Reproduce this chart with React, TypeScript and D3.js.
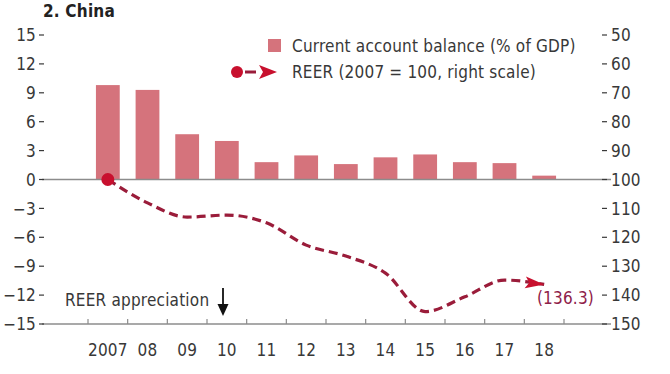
import React from 'react';
import {scaleBand, scaleLinear, line, curveMonotoneX, format} from 'd3';

// data
const years = ['2007', '08', '09', '10', '11', '12', '13', '14', '15', '16', '17', '18'];
const caBalance = [9.8, 9.3, 4.7, 4.0, 1.8, 2.5, 1.6, 2.3, 2.6, 1.8, 1.7, 0.4];
const reer = [100, 108.1, 113.0, 112.3, 115.0, 122.7, 126.5, 132.4, 145.7, 140.6, 134.8, 136.3];
const leftTicks = [15, 12, 9, 6, 3, 0, -3, -6, -9, -12, -15];
const rightTicks = [50, 60, 70, 80, 90, 100, 110, 120, 130, 140, 150];

const W = 670, H = 374;
const FONT = "'DejaVu Sans Condensed', 'Liberation Sans Narrow', sans-serif";
const BAR = '#d5737c';
const LINE = '#9a1c3a';
const DOT = '#c8102e';
const GRID = '#8c8c8c';
const TXT = '#383838';

const textStyle = {fontFamily: FONT, fontSize: 17, letterSpacing: 0.2, fill: TXT};

const App = () => {
    const x = scaleBand<string>()
        .domain(years)
        .range([88, 564])
        .paddingInner(0.4)
        .paddingOuter(0.2);
    const yL = scaleLinear().domain([-15, 15]).range([324, 35]);
    const yR = scaleLinear().domain([150, 50]).range([324, 35]);

    const step = x.step();
    const cx = (d: string) => (x(d) as number) + x.bandwidth() / 2;
    const bounds = years.map(d => (x(d) as number) - step * 0.2);
    bounds.push(bounds[bounds.length - 1] + step);

    const pts: [number, number][] = years.map((d, i) => [cx(d), yR(reer[i])]);
    const reerPath = line().curve(curveMonotoneX)(pts) || '';

    // arrow head at end of line
    const [x1, y1] = pts[pts.length - 2];
    const [x2, y2] = pts[pts.length - 1];
    const ang = Math.atan2(y2 - y1, x2 - x1);
    const L = 19, hw = 6;
    const bx = x2 - L * Math.cos(ang), by = y2 - L * Math.sin(ang);
    const head = [
        [x2, y2],
        [bx + hw * Math.sin(ang), by - hw * Math.cos(ang)],
        [bx + 4 * Math.cos(ang), by + 4 * Math.sin(ang)],
        [bx - hw * Math.sin(ang), by + hw * Math.cos(ang)],
    ].map(p => p.join(',')).join(' ');

    const fmt = format('d');
    const axL = 44, axR = 602;
    const lineStart = 42, lineEnd = 611;

    return (
        <svg width={W} height={H} style={{position: 'absolute', left: 0, top: 0, background: '#fff'}}>
            {/* title */}
            <text x={43} y={17} style={{...textStyle, fontWeight: 'bold', fill: '#222'}}>2. China</text>

            {/* bars */}
            {years.map((d, i) => (
                <rect key={d} x={x(d)} width={x.bandwidth()}
                      y={yL(Math.max(0, caBalance[i]))}
                      height={Math.abs(yL(caBalance[i]) - yL(0))}
                      fill={BAR}/>
            ))}

            {/* zero line and bottom axis */}
            <line x1={lineStart} x2={lineEnd} y1={yL(0)} y2={yL(0)} stroke={GRID} strokeWidth={1.5}/>
            <line x1={lineStart} x2={lineEnd} y1={yL(-15)} y2={yL(-15)} stroke={GRID} strokeWidth={1.5}/>
            {bounds.map((b, i) => (
                <line key={i} x1={b} x2={b} y1={yL(-15)} y2={yL(-15) - 5} stroke={GRID} strokeWidth={1.2}/>
            ))}
            {years.map(d => (
                <text key={d} x={cx(d)} y={356} textAnchor="middle" style={textStyle}>{d}</text>
            ))}

            {/* left axis */}
            {leftTicks.map(t => (
                <g key={t} transform={`translate(0,${yL(t)})`}>
                    <line x1={axL - 5} x2={axL} stroke={TXT} strokeWidth={1.2}/>
                    <text x={axL - 8} dy="0.36em" textAnchor="end" style={textStyle}>{fmt(t)}</text>
                </g>
            ))}

            {/* right axis */}
            {rightTicks.map(t => (
                <g key={t} transform={`translate(0,${yR(t)})`}>
                    <line x1={axR} x2={axR + 5} stroke={TXT} strokeWidth={1.2}/>
                    <text x={axR + 9} dy="0.36em" textAnchor="start" style={textStyle}>{fmt(t)}</text>
                </g>
            ))}

            {/* REER line */}
            <path d={reerPath} fill="none" stroke={LINE} strokeWidth={3.2} strokeDasharray="9,5"/>
            <polygon points={head} fill={DOT}/>
            <circle cx={pts[0][0]} cy={pts[0][1]} r={6.5} fill={DOT}/>
            <text x={594} y={304} textAnchor="end" style={{...textStyle, fill: '#8e2049'}}>(136.3)</text>

            {/* annotation */}
            <text x={65} y={306} style={textStyle}>REER appreciation</text>
            <line x1={223} x2={223} y1={288} y2={308} stroke="#111" strokeWidth={1.8}/>
            <polygon points="217.5,304 228.5,304 223,316" fill="#111"/>

            {/* legend */}
            <rect x={268} y={39} width={13} height={13} fill={BAR}/>
            <text x={292} y={52} style={textStyle}>Current account balance (% of GDP)</text>
            <circle cx={237} cy={72} r={6} fill={DOT}/>
            <line x1={245} x2={256} y1={72} y2={72} stroke={LINE} strokeWidth={3}/>
            <polygon points="259,65 277,72 259,79 263,72" fill={DOT}/>
            <text x={292} y={78} style={textStyle}>REER (2007 = 100, right scale)</text>
        </svg>
    );
};

export default App;
